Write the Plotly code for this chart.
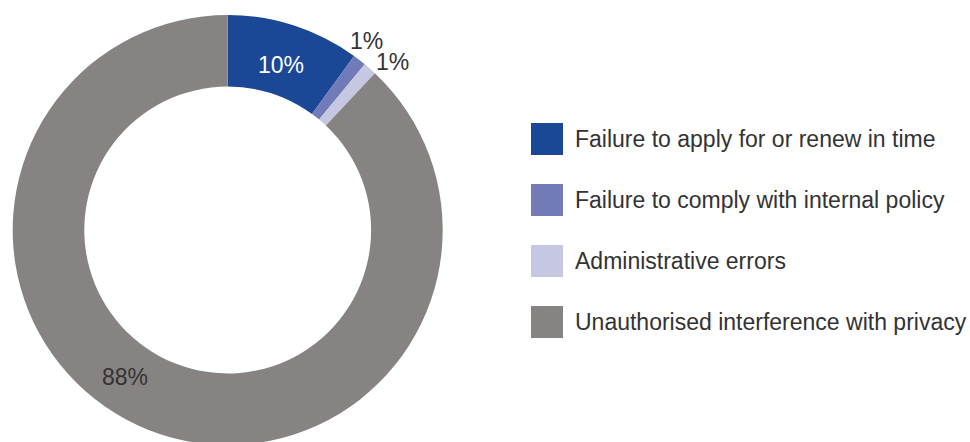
import plotly.graph_objects as go

categories = [
    "Failure to apply for or renew in time",
    "Failure to comply with internal policy",
    "Administrative errors",
    "Unauthorised interference with privacy",
]
values = [10, 1, 1, 88]
colors = ["#1b4896", "#707bb8", "#c6c8e3", "#878383"]

W, H = 970, 445
FONT = "Liberation Sans, Arial, sans-serif"

def px(x):
    return x / W

def py(y):
    return 1 - y / H

# donut centre (227.7, 230) radius 215 in page pixels
cx, cy, r = 227.7, 230, 215
fig = go.Figure(
    go.Pie(
        labels=categories,
        values=values,
        hole=0.667,
        sort=False,
        direction="clockwise",
        rotation=0,
        marker=dict(colors=colors, line=dict(width=0)),
        textinfo="none",
        hoverinfo="label+percent",
        showlegend=False,
        domain=dict(x=[px(cx - r), px(cx + r)], y=[max(0, py(cy + r)), py(cy - r)]),
    )
)

# slice value labels (pixel positions of label centres)
label_pos = [(281, 65), (366, 41), (392, 62), (125, 377)]
label_col = ["#ffffff", "#333333", "#333333", "#333333"]
annotations = []
for v, (lx, ly), c in zip(values, label_pos, label_col):
    annotations.append(dict(
        x=px(lx), y=py(ly), xref="paper", yref="paper",
        text=f"{v}%", showarrow=False,
        xanchor="center", yanchor="middle",
        font=dict(family=FONT, size=23, color=c),
    ))

# custom legend
shapes = []
row_y = [139, 200, 261, 322]
for cat, col, ry in zip(categories, colors, row_y):
    shapes.append(dict(
        type="rect", xref="paper", yref="paper",
        x0=px(531), x1=px(563), y0=py(ry + 16), y1=py(ry - 16),
        fillcolor=col, line=dict(width=0),
    ))
    annotations.append(dict(
        x=px(573), y=py(ry), xref="paper", yref="paper",
        text=cat, showarrow=False,
        xanchor="left", yanchor="middle",
        font=dict(family=FONT, size=23, color="#333333"),
    ))

fig.update_layout(
    width=W, height=H,
    margin=dict(l=0, r=0, t=0, b=0),
    paper_bgcolor="white",
    plot_bgcolor="white",
    annotations=annotations,
    shapes=shapes,
)

fig.write_html(
    "out.html",
    config={"displayModeBar": False},
    post_script="document.body.style.margin='0';"
                "document.documentElement.style.overflow='hidden';"
                "document.body.style.overflow='hidden';",
)
